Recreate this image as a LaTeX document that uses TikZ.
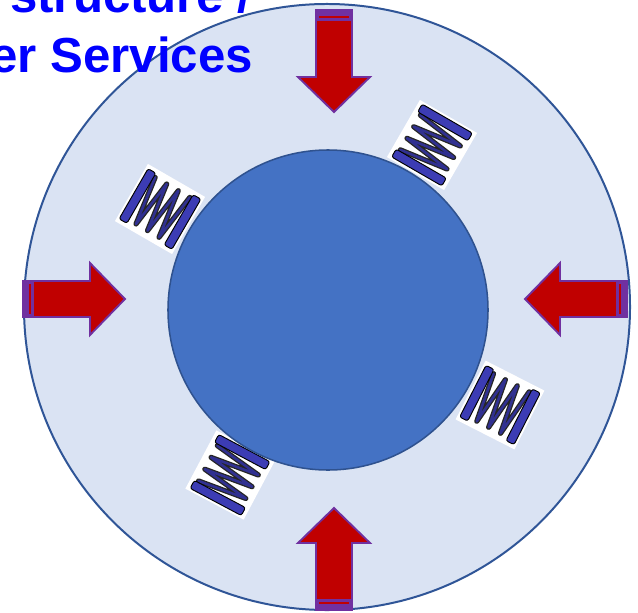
\documentclass[tikz,border=0pt]{standalone}
\usepackage{fontspec}
\usepackage{tikz}
\newfontfamily\labelfont{Liberation Sans}

\definecolor{ringfill}{HTML}{DAE3F3}
\definecolor{ringline}{HTML}{2F5597}
\definecolor{corefill}{HTML}{4472C4}
\definecolor{coreline}{HTML}{2F528F}
\definecolor{pushred}{HTML}{C00000}
\definecolor{pushpurple}{HTML}{7030A0}
\definecolor{coilblue}{HTML}{3C3CB4}

\tikzset{
  push arrow/.pic={
    \path[fill=pushred,draw=pushpurple,line width=1.6pt,line join=miter]
      (0,-18) -- (67,-18) -- (67,-36) -- (102,0) -- (67,36) -- (67,18) -- (0,18) -- cycle;
    \fill[pushpurple] (0,-18) rectangle (11,18);
    \draw[pushred,line width=1.2pt] (7,-15) -- (7,15);
  },
  spring pad/.pic={
    \fill[white] (-33,-33) rectangle (33,33);
    \draw[draw=black!85,double=coilblue!80!black,double distance=2.2pt,line width=1.1pt,line join=round,line cap=round]
      (-20,-25) -- (-13.3,25) -- (-6.7,-25) -- (0,25) -- (6.7,-25) -- (13.3,25) -- (20,-25);
    \foreach \s in {-1,1}
      \filldraw[fill=coilblue,draw=black,line width=0.8pt,rounded corners=2pt]
        (\s*26-4.5,-29) rectangle (\s*26+4.5,29);
  }
}

\begin{document}
\begin{tikzpicture}[x=0.03cm,y=-0.03cm,
    ring/.style={circle,draw=ringline,fill=ringfill,line width=1.7pt,minimum size=18.18cm,inner sep=0pt},
    core/.style={circle,draw=coreline,fill=corefill,line width=1.3pt,minimum size=9.6cm,inner sep=0pt},
    headline/.style={inner sep=0pt,anchor=base west,text=blue,font=\labelfont\bfseries\fontsize{42}{50}\selectfont}]

  \useasboundingbox (0,0) rectangle (638,613);

  \node[ring] (ring) at (327,307) {};

  % springs sit between the ring and the core
  \pic[rotate=-30] at (160,209) {spring pad};
  \pic[rotate=60] at (432,145) {spring pad};
  \pic[rotate=-27] at (500,405) {spring pad};
  \pic[rotate=62] at (230,475) {spring pad};

  \node[core] (core) at (328,310) {};

  \pic at (23,299) {push arrow};
  \pic[rotate=180] at (627,299) {push arrow};
  \pic[rotate=-90] at (334,10) {push arrow};
  \pic[rotate=90] at (334,610) {push arrow};

  \node[headline] (line1) at (10,12) {structure /};
  \node[headline] (line2) at (-10,72) {er Services};
\end{tikzpicture}
\end{document}
